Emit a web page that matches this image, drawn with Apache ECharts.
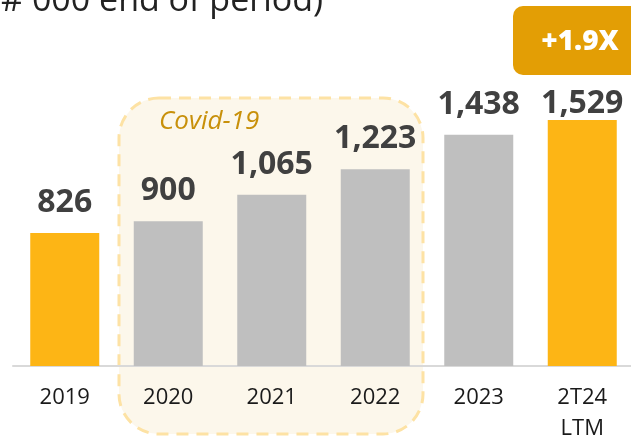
<!DOCTYPE html>
<html><head><meta charset="utf-8">
<script src="https://cdn.jsdelivr.net/npm/echarts@6/dist/echarts.min.js"></script>
<style>html,body{margin:0;padding:0;background:#fff}#c{width:631px;height:436px}</style>
</head><body><div id="c"></div>
<script>
const categories = ['2019','2020','2021','2022','2023','2T24\nLTM'];
const values = [826, 900, 1065, 1223, 1438, 1529];
const highlighted = [true, false, false, false, false, true];
const titleText = '(# 000 end of period)';
const badgeText = '+1.9X';
const covidText = 'Covid-19';

const chart = echarts.init(document.getElementById('c'));
chart.setOption({
  animation: false,
  grid: {left: 13, width: 621, top: 0, bottom: 70, containLabel: false, outerBoundsMode: 'none'},
  xAxis: {
    type: 'category', data: categories,
    axisLine: {lineStyle: {color: '#D9D9D9', width: 2}},
    axisTick: {show: false},
    axisLabel: {fontFamily: 'Open Sans', fontSize: 22, color: '#1a1a1a', margin: 16, lineHeight: 31}
  },
  yAxis: {type: 'value', min: 0, max: 2275, show: false, splitLine: {show: false}},
  series: [{
    type: 'bar', barWidth: 69, z: 5,
    data: values.map((v, i) => ({
      value: v,
      itemStyle: {color: highlighted[i] ? '#FDB515' : '#BFBFBF'},
      label: i === values.length - 1 ? {distance: 0} : {}
    })),
    label: {
      show: true, position: 'top', distance: 14,
      fontFamily: 'Open Sans', fontWeight: 'bold', fontSize: 32, color: '#404040',
      formatter: p => p.value.toLocaleString('en-US')
    }
  }],
  graphic: [
    {type: 'rect', z: -10, shape: {x: 119, y: 98, width: 304, height: 336, r: 40},
     style: {fill: '#FCF7EB', stroke: '#FDE2A4', lineWidth: 3, lineDash: [12, 8]}},
    {type: 'text', z: 10, x: 159, y: 122,
     style: {text: covidText, fontFamily: 'Open Sans', fontStyle: 'italic', fontSize: 26, fill: '#C8900A', textVerticalAlign: 'middle'}},
    {type: 'rect', z: 10, shape: {x: 513, y: 6, width: 140, height: 69, r: 10}, style: {fill: '#E39E05'}},
    {type: 'text', z: 11, x: 580, y: 42,
     style: {text: badgeText, fontFamily: 'Open Sans', fontWeight: 800, fontSize: 28, fill: '#fff', textAlign: 'center', textVerticalAlign: 'middle'}},
    {type: 'text', z: 10, x: 323, y: 18,
     style: {text: titleText, fontFamily: 'Open Sans', fontSize: 34, fill: '#222', textAlign: 'right', textVerticalAlign: 'bottom'}}
  ]
});
</script></body></html>
